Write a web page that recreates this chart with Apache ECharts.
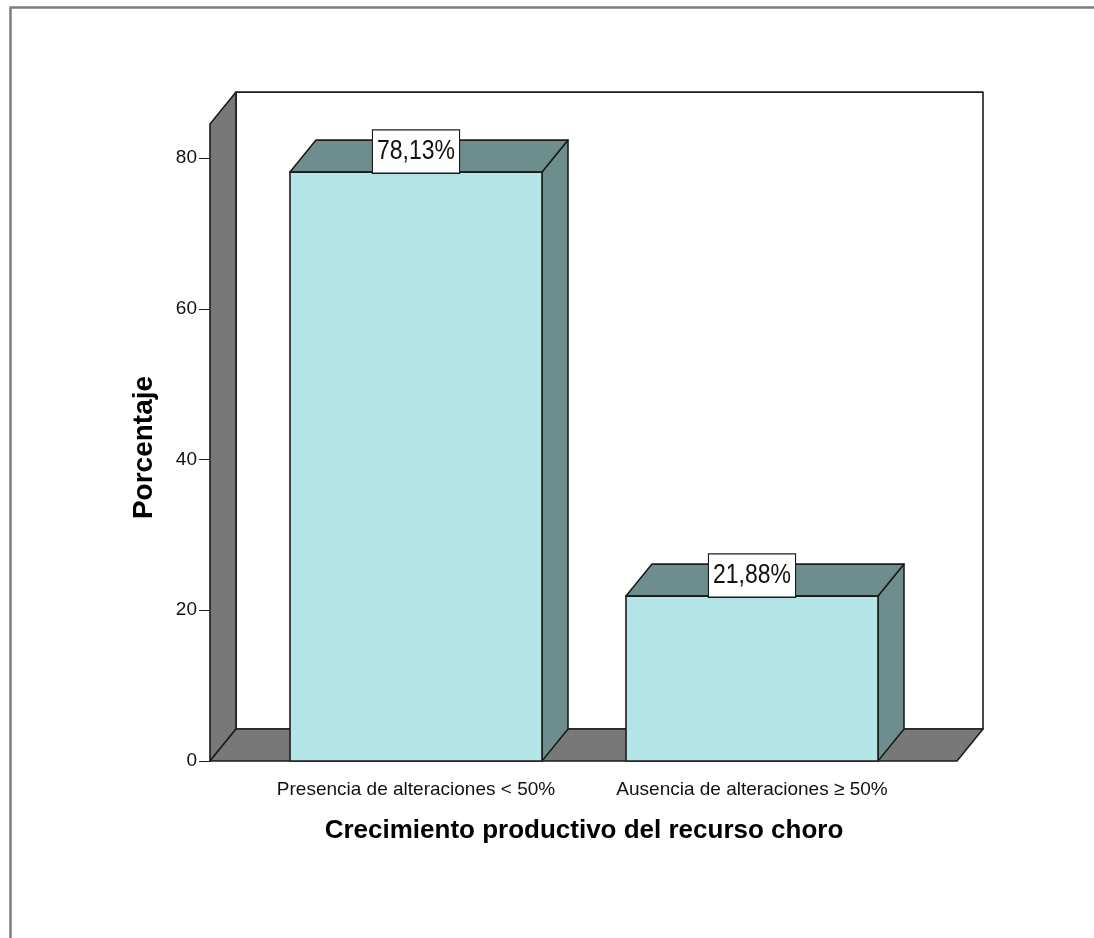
<!DOCTYPE html>
<html>
<head>
<meta charset="utf-8">
<script src="https://cdn.jsdelivr.net/npm/echarts@6/dist/echarts.min.js"></script>
<style>
  html, body { margin: 0; padding: 0; background: #ffffff; }
  #chart { width: 1094px; height: 938px; }
</style>
</head>
<body>
<div id="chart"></div>
<script>
// Categories and their percentages
const categories = ['Presencia de alteraciones < 50%', 'Ausencia de alteraciones \u2265 50%'];
const percentages = [78.13, 21.88];
const yTickValues = [0, 20, 40, 60, 80];
const yTitle = 'Porcentaje';
const xTitle = 'Crecimiento productivo del recurso choro';

// 3D look: depth offset of every box, in pixels
const DEPTH_X = 26;
const DEPTH_Y = -32;
// how far the floor/walls reach beyond the category grid
const WALL_PAD_LEFT = 38;
const WALL_PAD_RIGHT = 37;
// value at which the front edge of the side wall ends
const WALL_TOP_VALUE = 84.5;
const BAR_RATIO = 0.75;
// value boxes use a slightly tall type
const LABEL_STRETCH = 1.2;

const FONT = '"Liberation Sans", Arial, sans-serif';
const EDGE = '#1c1c1c';
const WALL_FILL = '#787878';
const BAR_FRONT = '#b3e5e7';
const BAR_SHADE = '#6e8d8d';

function formatPct(v) {
  return v.toFixed(2).replace('.', ',') + '%';
}

// Walls and floor of the 3D box
function renderFrame(params, api) {
  const cs = params.coordSys;
  const x0 = cs.x - WALL_PAD_LEFT;
  const x1 = cs.x + cs.width + WALL_PAD_RIGHT;
  const yBase = api.coord([0, 0])[1];
  const yTop = api.coord([0, WALL_TOP_VALUE])[1];
  const style = { stroke: EDGE, lineWidth: 1.6, lineJoin: 'round' };
  return {
    type: 'group',
    children: [
      { type: 'rect', shape: { x: x0 + DEPTH_X, y: yTop + DEPTH_Y, width: x1 - x0, height: yBase - yTop },
        style: Object.assign({ fill: '#ffffff' }, style) },
      { type: 'polygon', shape: { points: [[x0, yBase], [x0, yTop], [x0 + DEPTH_X, yTop + DEPTH_Y], [x0 + DEPTH_X, yBase + DEPTH_Y]] },
        style: Object.assign({ fill: WALL_FILL }, style) },
      { type: 'polygon', shape: { points: [[x0, yBase], [x0 + DEPTH_X, yBase + DEPTH_Y], [x1 + DEPTH_X, yBase + DEPTH_Y], [x1, yBase]] },
        style: Object.assign({ fill: WALL_FILL }, style) }
    ]
  };
}

// One 3D bar with its value box
function renderBar(params, api) {
  const idx = api.value(0);
  const val = api.value(1);
  const base = api.coord([idx, 0]);
  const top = api.coord([idx, val]);
  const w = api.size([1, 0])[0] * BAR_RATIO;
  const x0 = base[0] - w / 2;
  const x1 = base[0] + w / 2;
  const y0 = base[1];
  const y1 = top[1];
  const style = { stroke: EDGE, lineWidth: 1.6, lineJoin: 'round' };
  return {
    type: 'group',
    children: [
      { type: 'polygon', shape: { points: [[x1, y1], [x1 + DEPTH_X, y1 + DEPTH_Y], [x1 + DEPTH_X, y0 + DEPTH_Y], [x1, y0]] },
        style: Object.assign({ fill: BAR_SHADE }, style) },
      { type: 'polygon', shape: { points: [[x0, y1], [x0 + DEPTH_X, y1 + DEPTH_Y], [x1 + DEPTH_X, y1 + DEPTH_Y], [x1, y1]] },
        style: Object.assign({ fill: BAR_SHADE }, style) },
      { type: 'rect', shape: { x: x0, y: y1, width: w, height: y0 - y1 },
        style: Object.assign({ fill: BAR_FRONT }, style) },
      { type: 'text', x: base[0], y: y1 + 0.5,
        scaleY: LABEL_STRETCH,
        style: {
          text: formatPct(val), fontFamily: FONT, fontSize: 23, fill: '#111',
          align: 'center', verticalAlign: 'bottom', lineHeight: 23,
          backgroundColor: '#ffffff', borderColor: EDGE, borderWidth: 1.1,
          padding: [6, 4, 6, 4]
        } }
    ]
  };
}

const chart = echarts.init(document.getElementById('chart'), null, { renderer: 'canvas' });
chart.setOption({
  backgroundColor: '#ffffff',
  animation: false,
  graphic: [
    { type: 'rect', left: 8, top: 5, shape: { x: 0, y: 0, width: 1200, height: 1000 },
      style: { fill: 'none', stroke: '#7d7d7d', lineWidth: 2.5 }, silent: true }
  ],
  grid: { left: 248, right: 174, top: 158, bottom: 177 },
  xAxis: {
    type: 'category',
    data: categories,
    axisLine: { show: false },
    axisTick: { show: false },
    axisLabel: { fontFamily: FONT, fontSize: 19, color: '#111', margin: 19, interval: 0, hideOverlap: false },
    name: xTitle,
    nameLocation: 'middle',
    nameGap: 57,
    nameTextStyle: { fontFamily: FONT, fontSize: 26, fontWeight: 'bold', color: '#000' }
  },
  yAxis: {
    type: 'value',
    min: yTickValues[0],
    max: yTickValues[yTickValues.length - 1],
    interval: yTickValues[1] - yTickValues[0],
    offset: WALL_PAD_LEFT,
    splitLine: { show: false },
    axisLine: { show: false },
    axisTick: { show: true, length: 11, lineStyle: { color: '#222', width: 1 } },
    axisLabel: { fontFamily: FONT, fontSize: 19, color: '#111', margin: 13 },
    name: yTitle,
    nameLocation: 'middle',
    nameRotate: 90,
    nameGap: 52,
    nameTextStyle: { fontFamily: FONT, fontSize: 28, fontWeight: 'bold', color: '#000', padding: [0, 0, 0, 24] }
  },
  series: [
    { type: 'custom', renderItem: renderFrame, data: [[0, 0]], clip: false, silent: true, z: 1 },
    { type: 'custom', renderItem: renderBar, data: percentages.map((v, i) => [i, v]), clip: false, z: 2 }
  ]
});
</script>
</body>
</html>
